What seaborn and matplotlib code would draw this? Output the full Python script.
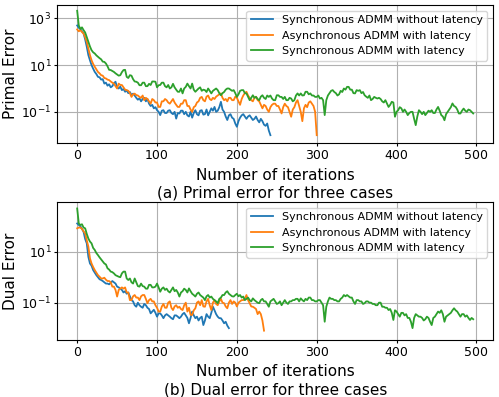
import numpy as np
import pandas as pd
import matplotlib
matplotlib.use("Agg")
import matplotlib.pyplot as plt
import seaborn as sns

STEP = 2
labels = ["Synchronous ADMM without latency",
          "Asynchronous ADMM with latency",
          "Synchronous ADMM with latency"]
colors = ["#1f77b4", "#ff7f0e", "#2ca02c"]

primal_sync_nolat = [
    2.70, 2.60, 2.55, 2.45, 2.36, 2.10, 1.79, 1.43, 1.21, 1.00,
    0.85, 0.71, 0.62, 0.50, 0.48, 0.38, 0.40, 0.21, 0.25, 0.12,
    0.18, 0.05, 0.10, 0.22, 0.29, 0.05, 0.00, 0.08, -0.07, -0.02,
    -0.14, -0.08, -0.20, -0.15, -0.28, -0.22, -0.30, -0.40, -0.48, -0.42,
    -0.55, -0.45, -0.40, -0.55, -0.45, -0.65, -0.75, -0.70, -0.85, -0.80,
    -0.93, -1.00, -1.14, -0.95, -0.93, -1.05, -1.05, -0.95, -0.93, -1.05,
    -1.10, -1.00, -1.29, -1.05, -1.07, -0.95, -0.95, -1.10, -1.00, -1.15,
    -1.20, -1.00, -1.25, -1.05, -0.93, -1.10, -1.15, -0.95, -0.93, -1.12,
    -1.10, -0.90, -1.15, -1.00, -0.85, -0.95, -0.79, -1.00, -0.95, -0.80,
    -0.57, -0.90, -1.00, -1.20, -1.35, -1.15, -1.10, -1.25, -1.30, -1.50,
    -1.64, -1.40, -1.25, -1.15, -1.10, -1.20, -1.30, -1.20, -1.15, -1.25,
    -1.35, -1.30, -1.20, -1.35, -1.45, -1.30, -1.40, -1.55, -1.60, -1.50,
    -1.80, -2.00]
primal_async_lat = [
    2.53, 2.45, 2.50, 2.42, 2.35, 2.20, 2.00, 1.71, 1.43, 1.21,
    1.05, 0.93, 0.82, 0.71, 0.65, 0.57, 0.55, 0.45, 0.43, 0.38,
    0.36, 0.30, 0.25, 0.21, 0.10, 0.00, 0.21, 0.15, 0.15, 0.05,
    -0.05, -0.07, -0.10, -0.20, -0.36, -0.25, -0.22, -0.28, -0.30, -0.36,
    -0.40, -0.30, -0.50, -0.40, -0.45, -0.55, -0.65, -0.45, -0.50, -0.60,
    -0.60, -0.79, -0.79, -0.55, -0.55, -0.45, -0.50, -0.60, -0.65, -0.55,
    -0.45, -0.60, -0.70, -0.79, -0.79, -0.65, -0.65, -0.50, -0.50, -0.75,
    -0.75, -0.90, -1.00, -0.80, -0.75, -0.60, -0.55, -0.40, -0.36, -0.50,
    -0.55, -0.35, -0.30, -0.45, -0.50, -0.40, -0.45, -0.35, -0.30, -0.25,
    -0.21, -0.40, -0.50, -0.45, -0.55, -0.40, -0.40, -0.50, -0.50, -0.35,
    -0.40, -0.55, -0.70, -0.45, -0.30, -0.20, -0.14, -0.30, -0.40, -0.50,
    -0.55, -0.40, -0.35, -0.50, -0.55, -0.70, -0.85, -0.70, -0.75, -0.90,
    -1.00, -0.80, -0.70, -0.65, -0.65, -0.75, -0.75, -0.90, -1.07, -0.80,
    -0.65, -0.75, -0.80, -1.00, -1.21, -0.90, -0.80, -0.60, -0.50, -0.75,
    -1.00, -1.40, -0.85, -0.70, -0.80, -0.60, -0.55, -0.65, -0.75, -1.00,
    -2.00]
primal_sync_lat = [
    3.33, 2.70, 2.55, 2.62, 2.50, 2.40, 2.20, 2.00, 1.80, 1.64,
    1.55, 1.50, 1.42, 1.36, 1.30, 1.25, 1.15, 1.14, 1.07, 0.95,
    0.80, 0.79, 0.75, 0.71, 0.65, 0.60, 0.55, 0.57, 0.70, 0.79,
    0.80, 0.50, 0.45, 0.57, 0.55, 0.40, 0.30, 0.29, 0.25, 0.14,
    0.14, 0.25, 0.25, 0.10, 0.10, 0.20, 0.15, 0.30, 0.30, 0.29,
    0.05, 0.14, 0.15, 0.25, 0.25, 0.10, 0.05, 0.15, 0.00, 0.05,
    0.20, 0.05, -0.05, -0.14, -0.14, 0.00, -0.21, 0.00, 0.07, 0.21,
    0.10, 0.00, 0.21, -0.05, -0.14, -0.07, 0.00, 0.05, -0.10, -0.05,
    -0.07, -0.15, 0.00, -0.10, -0.21, -0.10, -0.05, 0.00, -0.07, -0.20,
    -0.29, -0.20, -0.15, -0.05, 0.00, 0.00, -0.05, -0.10, -0.07, -0.20,
    -0.36, -0.25, -0.10, -0.07, -0.07, -0.20, -0.21, -0.35, -0.50, -0.40,
    -0.29, -0.40, -0.36, -0.45, -0.50, -0.35, -0.29, -0.40, -0.45, -0.30,
    -0.36, -0.30, -0.43, -0.50, -0.50, -0.29, -0.29, -0.36, -0.36, -0.45,
    -0.36, -0.50, -0.50, -0.40, -0.43, -0.55, -0.50, -0.30, -0.21, -0.30,
    -0.21, -0.30, -0.29, -0.14, -0.14, -0.25, -0.21, -0.30, -0.30, -0.36,
    -0.36, -0.30, -0.43, -0.40, -0.50, -1.14, -0.50, -0.30, -0.20, -0.10,
    -0.07, -0.15, -0.20, -0.30, -0.25, -0.10, -0.15, 0.00, -0.05, 0.07,
    0.07, -0.05, -0.05, -0.20, -0.21, -0.07, -0.10, -0.07, -0.20, -0.15,
    -0.29, -0.35, -0.40, -0.30, -0.50, -0.45, -0.36, -0.40, -0.43, -0.40,
    -0.45, -0.55, -0.60, -0.50, -0.64, -0.79, -0.70, -0.57, -0.60, -1.21,
    -1.00, -0.93, -0.80, -0.85, -1.00, -0.90, -1.00, -1.14, -1.05, -1.00,
    -1.00, -1.30, -1.57, -1.20, -0.93, -1.00, -1.10, -1.00, -1.14, -1.05,
    -0.95, -1.00, -0.93, -1.05, -1.05, -0.90, -0.79, -0.95, -1.14, -1.20,
    -1.36, -1.10, -1.00, -0.90, -0.80, -0.64, -0.75, -0.79, -0.90, -1.07,
    -1.07, -0.95, -0.86, -0.95, -1.00, -0.90, -0.93, -1.00, -1.07]

dual_sync_nolat = [
    2.11, 2.05, 2.00, 1.90, 1.78, 1.50, 1.33, 0.80, 0.54, 0.45,
    0.28, 0.18, 0.08, 0.00, -0.08, -0.11, -0.15, -0.20, -0.25, -0.25,
    -0.28, -0.22, -0.15, -0.20, -0.25, -0.37, -0.40, -0.45, -0.50, -0.60,
    -0.55, -0.65, -0.60, -0.75, -0.90, -0.95, -1.10, -1.16, -1.00, -1.10,
    -1.16, -1.20, -1.05, -1.10, -1.20, -1.25, -1.42, -1.35, -1.28, -1.40,
    -1.55, -1.42, -1.42, -1.50, -1.61, -1.50, -1.45, -1.50, -1.55, -1.61,
    -1.65, -1.50, -1.50, -1.55, -1.61, -1.55, -1.45, -1.40, -1.50, -1.60,
    -1.81, -1.60, -1.35, -1.50, -1.61, -1.55, -1.70, -1.60, -1.55, -1.88,
    -1.70, -1.45, -1.55, -1.61, -1.40, -1.16, -1.30, -1.45, -1.55, -1.61,
    -1.61, -1.70, -1.81, -1.75, -1.90, -2.00]
dual_async_lat = [
    1.92, 1.95, 1.95, 1.90, 1.80, 1.72, 1.45, 1.20, 0.74, 0.54,
    0.40, 0.28, 0.18, 0.08, 0.02, -0.05, -0.05, -0.02, -0.10, -0.15,
    -0.15, -0.20, -0.37, -0.37, -0.50, -0.76, -0.50, -0.45, -0.40, -0.45,
    -0.40, -0.60, -0.60, -0.90, -0.90, -0.75, -0.70, -0.80, -0.80, -0.90,
    -0.75, -0.70, -0.70, -0.85, -1.02, -0.90, -0.85, -0.95, -0.95, -1.10,
    -1.20, -1.35, -1.35, -1.15, -1.05, -1.20, -1.20, -1.00, -0.95, -1.20,
    -1.29, -1.15, -1.10, -1.20, -1.16, -1.25, -1.29, -1.10, -1.00, -1.35,
    -1.20, -1.48, -1.48, -1.30, -1.22, -1.00, -0.95, -1.10, -0.90, -1.15,
    -1.16, -0.95, -0.85, -1.10, -1.29, -1.00, -0.90, -1.05, -1.10, -0.95,
    -0.85, -1.00, -1.02, -1.15, -1.22, -1.00, -0.90, -1.05, -0.95, -1.00,
    -1.15, -1.00, -0.95, -0.90, -0.90, -0.85, -0.70, -0.90, -1.02, -1.15,
    -1.16, -1.20, -1.25, -1.45, -1.35, -1.45, -1.70, -2.10]
dual_sync_lat = [
    2.70, 2.11, 2.05, 2.08, 1.95, 1.92, 1.70, 1.52, 1.40, 1.33,
    1.15, 1.07, 0.95, 0.87, 0.78, 0.70, 0.62, 0.54, 0.50, 0.35,
    0.30, 0.22, 0.20, 0.15, 0.08, 0.05, 0.02, 0.00, 0.15, 0.22,
    0.22, -0.05, -0.11, -0.05, -0.20, -0.25, -0.05, -0.20, -0.35, -0.37,
    -0.25, -0.35, -0.37, -0.45, -0.45, -0.30, -0.30, -0.40, -0.40, -0.37,
    -0.25, -0.40, -0.57, -0.45, -0.40, -0.50, -0.45, -0.55, -0.60, -0.50,
    -0.40, -0.55, -0.50, -0.60, -0.76, -0.60, -0.55, -0.45, -0.50, -0.60,
    -0.44, -0.55, -0.65, -0.70, -0.76, -0.65, -0.60, -0.70, -0.75, -0.80,
    -0.90, -0.75, -0.70, -0.80, -0.76, -0.85, -0.90, -0.95, -1.02, -0.85,
    -0.80, -0.70, -0.70, -0.60, -0.55, -0.65, -0.70, -0.75, -0.76, -0.70,
    -0.65, -0.75, -0.70, -0.80, -0.76, -0.90, -0.85, -0.80, -0.90, -0.95,
    -0.83, -0.90, -0.95, -1.00, -1.02, -0.90, -0.85, -0.95, -0.95, -1.05,
    -1.16, -0.95, -0.90, -0.85, -0.95, -1.05, -1.02, -0.95, -1.10, -1.00,
    -0.90, -1.00, -1.05, -0.95, -0.95, -0.90, -0.90, -0.85, -0.85, -0.95,
    -0.83, -0.90, -0.95, -0.85, -0.90, -0.80, -0.80, -0.90, -0.90, -0.95,
    -0.95, -0.90, -0.90, -1.00, -1.10, -1.75, -1.16, -0.95, -0.80, -0.85,
    -0.85, -0.90, -0.90, -0.95, -0.95, -0.85, -0.80, -0.70, -0.75, -0.70,
    -0.75, -0.80, -0.80, -0.95, -1.05, -0.90, -0.90, -0.95, -0.95, -1.05,
    -1.02, -0.95, -0.95, -1.00, -1.00, -1.05, -1.05, -1.10, -1.10, -1.00,
    -1.00, -1.16, -1.16, -1.20, -1.20, -1.29, -1.25, -1.40, -1.68, -1.30,
    -1.35, -1.45, -1.55, -1.40, -1.40, -1.50, -1.45, -1.60, -1.60, -1.75,
    -2.00, -1.60, -1.45, -1.50, -1.55, -1.55, -1.60, -1.70, -1.65, -1.55,
    -1.60, -1.75, -1.88, -1.60, -1.55, -1.45, -1.35, -1.40, -1.30, -1.45,
    -1.75, -1.55, -1.50, -1.45, -1.40, -1.30, -1.22, -1.30, -1.35, -1.45,
    -1.55, -1.45, -1.45, -1.55, -1.50, -1.60, -1.68, -1.60, -1.65]

panels = [
    ("Primal Error", "(a) Primal error for three cases",
     [primal_sync_nolat, primal_async_lat, primal_sync_lat],
     [1e-1, 1e1, 1e3], (10 ** -2.33, 10 ** 3.57)),
    ("Dual Error", "(b) Dual error for three cases",
     [dual_sync_nolat, dual_async_lat, dual_sync_lat],
     [1e-1, 1e1], (10 ** -2.46, 10 ** 2.95)),
]

fig, axes = plt.subplots(2, 1, figsize=(4.99, 3.97), dpi=100)
fig.subplots_adjust(left=0.115, right=0.988, top=0.987, bottom=0.144, hspace=0.43)

for ax, (ylab, cap, series, yt, ylim) in zip(axes, panels):
    for vals, lab, col in zip(series, labels, colors):
        df = pd.DataFrame({"iter": np.arange(len(vals)) * STEP,
                           "err": np.power(10.0, vals)})
        sns.lineplot(data=df, x="iter", y="err", ax=ax, color=col,
                     label=lab, linewidth=1.3, errorbar=None)
    ax.set_yscale("log")
    ax.set_ylim(*ylim)
    ax.set_yticks(yt)
    ax.yaxis.set_minor_locator(matplotlib.ticker.NullLocator())
    ax.set_xticks([0, 100, 200, 300, 400, 500])
    ax.tick_params(labelsize=9, length=2.2, pad=2.2)
    ax.grid(True, color="#b0b0b0", linewidth=0.8)
    ax.set_ylabel(ylab, fontsize=11)
    ax.yaxis.set_label_coords(-0.09, 0.5)
    ax.set_xlabel("Number of iterations\n" + cap, fontsize=11, linespacing=1.28)
    ax.legend(loc="upper right", fontsize=8)

fig.savefig("out.png", dpi=100)
